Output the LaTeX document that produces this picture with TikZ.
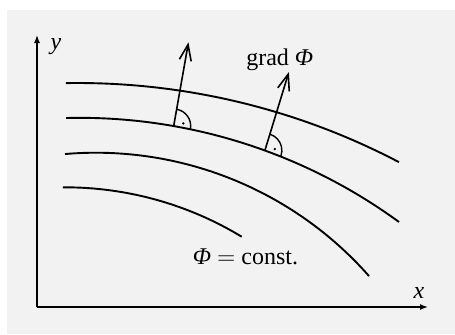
\documentclass[tikz,border=0pt]{standalone}
\usepackage{fontspec}
\setmainfont{Liberation Serif}
\usetikzlibrary{arrows.meta,calc}

\begin{document}
\begin{tikzpicture}[
    x=0.5pt,y=0.5pt,
    font=\fontsize{12}{14}\selectfont,
    axis/.style={-{Latex[length=4pt,width=3pt]},line width=0.7pt},
    level/.style={line width=0.95pt},
    arr/.style={-{Straight Barb[length=8pt,width=6pt]},line width=0.8pt},
    rmark/.style={line width=0.7pt},
    lbl/.style={inner sep=0pt,anchor=base}
  ]
    \useasboundingbox (0,0) rectangle (455,334);
    \fill[black!5] (7,0) rectangle (455,324);

    \coordinate (o) at (37,27);
    \coordinate (xend) at (428,27);
    \coordinate (yend) at (37,299);
    \draw[axis] (o) -- (xend);
    \draw[axis] (o) -- (yend);
    \node[lbl] (xlab) at (419,36) {\textit{x}};
    \node[lbl] (ylab) at (56,285) {\textit{y}};

    \coordinate (c1) at (77.7,-441);
    \coordinate (c2) at (79.65,-325.4);
    \coordinate (c3) at (95.9,-182.8);
    \coordinate (c4) at (65.06,-193.8);
    \draw[level] ($(c1)+(90.97:692)$) arc[start angle=90.97,end angle=62.34,radius=692];
    \draw[level] ($(c2)+(91.44:541.6)$) arc[start angle=91.44,end angle=53.87,radius=541.6];
    \draw[level] ($(c3)+(94.87:364.1)$) arc[start angle=94.87,end angle=41.4,radius=364.1];
    \draw[level] ($(c4)+(90.35:340.5)$) arc[start angle=90.35,end angle=58.75,radius=340.5];

    \coordinate (b1) at ($(c2)+(80:541.6)$);
    \coordinate (t1) at ($(b1)+(80:85)$);
    \coordinate (b2) at ($(c2)+(70:541.6)$);
    \coordinate (t2) at ($(b2)+(73:82)$);
    \draw[arr] (b1) -- (t1);
    \draw[arr] (b2) -- (t2);
    \draw[rmark] ($(b1)+(80:17)$) arc[start angle=80,end angle=-10,radius=17];
    \draw[rmark] ($(b2)+(73:17)$) arc[start angle=73,end angle=-20,radius=17];
    \fill ($(b1)+(15:10)$) circle[radius=1.3];
    \fill ($(b2)+(8:10)$) circle[radius=1.3];

    \node[lbl] (gradlab) at (279.8,269) {grad \textit{Φ}};
    \node[lbl] (constlab) at (245.5,70) {\textit{Φ} $=$ const.};
  \end{tikzpicture}
\end{document}
